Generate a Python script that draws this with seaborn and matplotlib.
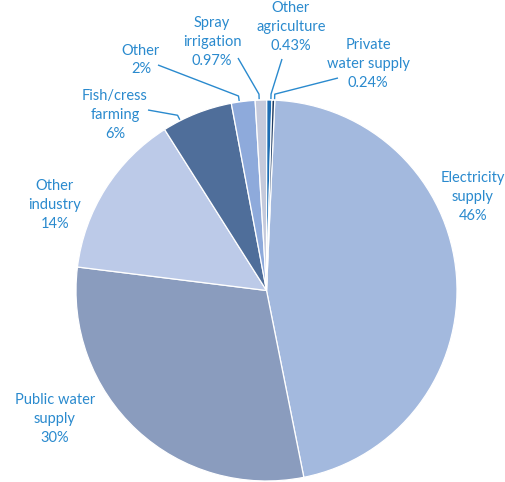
import numpy as np
import matplotlib
matplotlib.use("Agg")
import matplotlib.pyplot as plt
import seaborn as sns

# Water abstraction by use (percent of total)
categories = ["Electricity supply", "Public water supply", "Other industry",
              "Fish/cress farming", "Other", "Spray irrigation",
              "Other agriculture", "Private water supply"]
label_lines = ["Electricity\nsupply", "Public water\nsupply", "Other\nindustry",
               "Fish/cress\nfarming", "Other", "Spray\nirrigation",
               "Other\nagriculture", "Private\nwater supply"]
shares = [46, 30, 14, 6, 2, 0.97, 0.43, 0.24]
share_labels = ["46%", "30%", "14%", "6%", "2%", "0.97%", "0.43%", "0.24%"]

sns.set_theme(style="white")
palette = sns.color_palette(["#a3b9de", "#8a9cbe", "#bccae8", "#4f6e9a",
                             "#8eaadb", "#c5cadc", "#1e6eb4", "#1f3d66"])
plt.rcParams["font.family"] = ["Lato", "DejaVu Sans"]

text_blue = "#2a8ace"

W, H = 506, 482
fig = plt.figure(figsize=(W / 100, H / 100), dpi=100)
ax = fig.add_axes([0, 0, 1, 1])

cx, cy, R = 266.5, 191.5, 190.5
wedges, _ = ax.pie(shares, colors=palette, startangle=87.5, counterclock=False,
                   center=(cx, cy), radius=R, frame=True,
                   wedgeprops=dict(edgecolor="white", linewidth=0.9))
ax.set_xlim(0, W)
ax.set_ylim(0, H)
ax.set_aspect("equal")
ax.axis("off")

# Label block centres (pixels, y measured from the top)
label_pos = [(473, 197), (55, 419), (55, 205), (115, 115),
             (141, 60), (212, 42), (291, 27), (368, 64)]
# Where the leader line leaves the label (None = no leader)
leader_start = [None, None, None, (148, 110), (158, 65), (238, 58),
                (282, 59), (338, 78)]
# Position of the leader tip across each small wedge (0 = theta1, 1 = theta2)
leader_frac = [None, None, None, 0.75, 0.66, 0.65, 0.2, 0.1]

for i, w in enumerate(wedges):
    tx, ty = label_pos[i]
    ax.text(tx, H - ty, f"{label_lines[i]}\n{share_labels[i]}", ha="center",
            va="center", multialignment="center", fontsize=10.5,
            color=text_blue, linespacing=1.42)
    if leader_start[i] is not None:
        ang = np.deg2rad(w.theta1 + leader_frac[i] * (w.theta2 - w.theta1))
        tip = (cx + (R + 1) * np.cos(ang), cy + (R + 1) * np.sin(ang))
        elbow = (cx + (R + 6) * np.cos(ang), cy + (R + 6) * np.sin(ang))
        sx, sy = leader_start[i]
        ax.plot([sx, elbow[0], tip[0]], [H - sy, elbow[1], tip[1]],
                color=text_blue, lw=1.0, solid_capstyle="butt")

fig.savefig("out.png", dpi=100, facecolor="white")
